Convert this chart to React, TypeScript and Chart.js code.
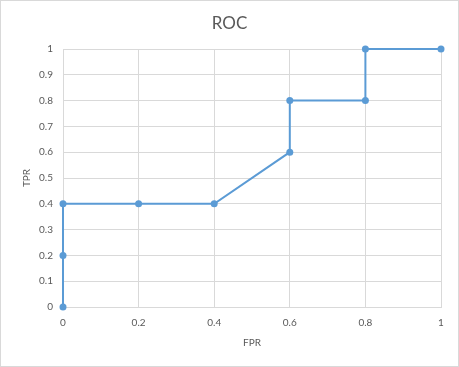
import React, { useEffect, useRef } from "react";
import { Chart, registerables } from "chart.js";

Chart.register(...registerables);

const chartTitle = "ROC";
const xAxisTitle = "FPR";
const yAxisTitle = "TPR";
const fprValues = [0, 0, 0, 0.2, 0.4, 0.6, 0.6, 0.8, 0.8, 1];
const tprValues = [0, 0.2, 0.4, 0.4, 0.4, 0.6, 0.8, 0.8, 1, 1];
const xTickLabels = ["0", "0.2", "0.4", "0.6", "0.8", "1"];
const yTickLabels = ["0", "0.1", "0.2", "0.3", "0.4", "0.5", "0.6", "0.7", "0.8", "0.9", "1"];

const FONT = "Lato, 'Open Sans', sans-serif";
const TEXT = "#595959";
const GRID = "#d9d9d9";
const LINE = "#5B9BD5";

export default function App() {
  const ref = useRef<HTMLCanvasElement | null>(null);

  useEffect(() => {
    document.body.style.margin = "0";
    if (!ref.current) return;
    const borderPlugin = {
      id: "outerBorder",
      beforeDraw(chart: any) {
        const ctx = chart.ctx;
        ctx.save();
        ctx.fillStyle = "#ffffff";
        ctx.fillRect(0, 0, chart.width, chart.height);
        ctx.strokeStyle = "#d9d9d9";
        ctx.lineWidth = 1;
        ctx.strokeRect(0.5, 0.5, chart.width - 1, chart.height - 1);
        ctx.restore();
      },
    };
    const chart = new Chart(ref.current, {
      type: "scatter",
      data: {
        datasets: [
          {
            data: fprValues.map((x, i) => ({ x, y: tprValues[i] })),
            showLine: true,
            clip: false,
            borderColor: LINE,
            backgroundColor: LINE,
            borderWidth: 2,
            pointRadius: 3.5,
            pointBorderWidth: 0,
            tension: 0,
          },
        ],
      },
      options: {
        responsive: false,
        animation: false,
        layout: { padding: 0 },
        plugins: {
          legend: { display: false },
          tooltip: { enabled: false },
          title: {
            display: true,
            text: chartTitle,
            color: TEXT,
            font: { family: FONT, size: 17, weight: "normal", lineHeight: 1.2 },
            padding: { top: 13, bottom: 15.6 },
          },
        },
        scales: {
          x: {
            type: "linear",
            min: 0,
            max: 1,
            ticks: {
              stepSize: 0.2,
              color: TEXT,
              font: { family: FONT, size: 10 },
              padding: 10,
              callback: (_v: any, i: number) => xTickLabels[i],
            },
            grid: { color: GRID, drawTicks: false },
            border: { color: GRID },
            title: {
              display: true,
              text: xAxisTitle,
              color: TEXT,
              font: { family: FONT, size: 10, lineHeight: 1.2 },
              padding: { top: 0, bottom: 18 },
            },
            afterFit: (s: any) => {
              s.height = 60;
            },
          },
          y: {
            type: "linear",
            min: 0,
            max: 1,
            ticks: {
              stepSize: 0.1,
              color: TEXT,
              font: { family: FONT, size: 10 },
              padding: 10,
              callback: (_v: any, i: number) => yTickLabels[i],
            },
            grid: { color: GRID, drawTicks: false },
            border: { color: GRID },
            title: {
              display: true,
              text: yAxisTitle,
              color: TEXT,
              font: { family: FONT, size: 10, lineHeight: 1.2 },
              padding: { top: 21, bottom: 0 },
            },
            afterFit: (s: any) => {
              s.width = 63;
            },
          },
          yRight: {
            type: "linear",
            position: "right",
            min: 0,
            max: 1,
            display: true,
            ticks: { display: false },
            grid: { display: false },
            border: { display: false },
            afterFit: (s: any) => {
              s.width = 18;
            },
          },
        },
      },
      plugins: [borderPlugin],
    });
    return () => chart.destroy();
  }, []);

  return <canvas ref={ref} width={459} height={367} style={{ display: "block" }} />;
}
